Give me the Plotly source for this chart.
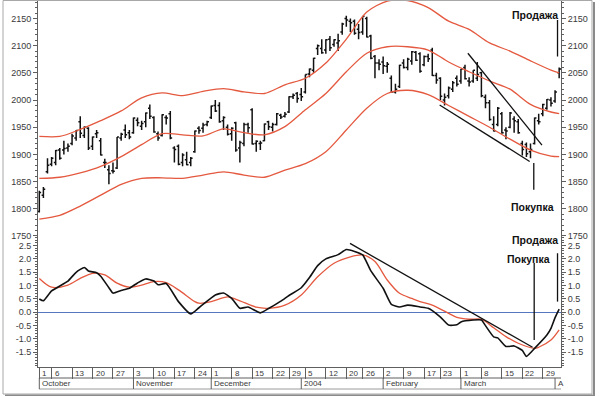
import plotly.graph_objects as go
import pandas as pd

# ---------------- categories (trading days) ----------------
holidays = ["2003-11-27", "2003-12-25", "2004-01-01", "2004-01-19", "2004-02-16"]
dates = [d for d in pd.bdate_range("2003-10-01", "2004-04-02")
         if d.strftime("%Y-%m-%d") not in holidays]
idx = list(range(len(dates)))

# ---------------- OHLC price bars ----------------
open_ = [1795, 1825, 1868, 1882, 1885, 1908, 1908, 1912, 1920, 1930, 1960, 1935, 1948, 1915, 1938, 1925,
         1885, 1872, 1870, 1875, 1930, 1945, 1940, 1940, 1963, 1952, 1960, 1985, 1968, 1938, 1935, 1968,
         1975, 1912, 1915, 1885, 1890, 1885, 1905, 1948, 1948, 1955, 1968, 1990, 1990, 1962, 1950, 1938,
         1958, 1912, 1920, 1955, 1982, 1920, 1920, 1925, 1960, 1950, 1955, 1972, 1970, 1978, 2006, 2012,
         2010, 2015, 2048, 2055, 2095, 2095, 2092, 2112, 2102, 2105, 2125, 2150, 2145, 2145, 2130, 2125,
         2150, 2118, 2080, 2068, 2070, 2062, 2040, 2015, 2025, 2068, 2060, 2072, 2088, 2085, 2065, 2080,
         2092, 2045, 2040, 2000, 2008, 2020, 2040, 2035, 2060, 2035, 2035, 2040, 2050, 2005, 1995, 1955,
         1955, 1975, 1945, 1950, 1965, 1960, 1920, 1918, 1905, 1920, 1962, 1975, 1985, 2000, 1998, 2050]
high = [1833, 1840, 1893, 1895, 1908, 1912, 1925, 1920, 1938, 1945, 1970, 1952, 1950, 1933, 1945, 1930,
        1892, 1880, 1885, 1932, 1940, 1955, 1945, 1968, 1968, 1962, 1977, 1992, 1970, 1942, 1974, 1972,
        1980, 1915, 1918, 1902, 1905, 1895, 1944, 1952, 1958, 1962, 1990, 2000, 1996, 1970, 1955, 1950,
        1960, 1925, 1958, 1958, 1985, 1926, 1925, 1957, 1962, 1958, 1976, 1975, 1978, 2007, 2012, 2015,
        2022, 2047, 2058, 2078, 2102, 2112, 2112, 2118, 2112, 2122, 2142, 2155, 2150, 2148, 2140, 2154,
        2153, 2120, 2083, 2075, 2080, 2070, 2045, 2030, 2065, 2075, 2078, 2090, 2090, 2088, 2082, 2085,
        2096, 2050, 2042, 2012, 2025, 2035, 2045, 2057, 2065, 2042, 2055, 2070, 2052, 2010, 2000, 1970,
        1987, 1978, 1950, 1978, 1970, 1965, 1925, 1922, 1920, 1968, 1975, 1993, 2002, 2005, 2018, 2060]
low = [1793, 1820, 1865, 1878, 1880, 1890, 1900, 1905, 1917, 1925, 1930, 1930, 1908, 1908, 1930, 1898,
       1875, 1845, 1865, 1873, 1925, 1930, 1928, 1938, 1952, 1945, 1950, 1965, 1940, 1925, 1933, 1955,
       1928, 1885, 1880, 1878, 1880, 1878, 1903, 1938, 1940, 1952, 1965, 1978, 1958, 1945, 1935, 1925,
       1905, 1885, 1915, 1940, 1918, 1905, 1908, 1924, 1945, 1942, 1953, 1965, 1968, 1976, 2002, 1995,
       1998, 2012, 2042, 2050, 2083, 2085, 2085, 2090, 2098, 2090, 2120, 2135, 2125, 2120, 2112, 2120,
       2115, 2075, 2040, 2055, 2048, 2050, 2014, 2012, 2022, 2058, 2055, 2065, 2072, 2050, 2062, 2070,
       2044, 2030, 2000, 1990, 2003, 2015, 2025, 2030, 2038, 2025, 2032, 2035, 2005, 1985, 1962, 1942,
       1952, 1938, 1928, 1948, 1940, 1938, 1898, 1895, 1893, 1918, 1955, 1970, 1982, 1988, 1995, 2040]
close = [1830, 1836, 1880, 1893, 1907, 1893, 1911, 1915, 1934, 1944, 1939, 1950, 1912, 1932, 1940, 1899,
         1885, 1865, 1869, 1932, 1937, 1936, 1932, 1967, 1958, 1957, 1976, 1970, 1941, 1930, 1973, 1967,
         1930, 1909, 1882, 1899, 1881, 1893, 1943, 1944, 1954, 1960, 1989, 1980, 1960, 1968, 1937, 1948,
         1908, 1922, 1955, 1949, 1919, 1924, 1921, 1956, 1951, 1955, 1975, 1969, 1974, 2006, 2009, 2003,
         2006, 2047, 2057, 2077, 2100, 2087, 2111, 2096, 2111, 2109, 2140, 2147, 2142, 2123, 2124, 2154,
         2116, 2077, 2068, 2066, 2063, 2066, 2015, 2020, 2064, 2060, 2075, 2089, 2073, 2053, 2080, 2076,
         2045, 2037, 2007, 2005, 2022, 2032, 2029, 2057, 2039, 2033, 2055, 2047, 2008, 1995, 1964, 1943,
         1985, 1940, 1943, 1976, 1962, 1940, 1909, 1901, 1909, 1967, 1960, 1992, 2001, 1994, 2015, 2057]

# ---------------- envelope lines (sampled every 5 trading days) ----------------
band_idx = [0, 5, 10, 15, 20, 25, 30, 35, 40, 45, 50, 55, 60, 65, 70, 75, 80, 85, 90, 95, 100, 105,
            110, 115, 120, 125, 127]
band_upper = [1933, 1933, 1946, 1962, 1980, 2004, 2013, 2008, 2016, 2021, 2015, 2012, 2028, 2040, 2068,
              2112, 2162, 2182, 2183, 2170, 2145, 2130, 2105, 2090, 2072, 2055, 2050]
band_mid = [1856, 1858, 1866, 1878, 1896, 1918, 1938, 1936, 1934, 1947, 1940, 1936, 1951, 1982, 2012,
            2052, 2086, 2098, 2098, 2092, 2070, 2052, 2035, 2020, 1992, 1978, 1975]
band_lower = [1781, 1788, 1805, 1825, 1845, 1856, 1857, 1856, 1862, 1868, 1862, 1858, 1871, 1883, 1905,
              1945, 1985, 2012, 2018, 2010, 1990, 1970, 1950, 1928, 1908, 1897, 1896]

# ---------------- oscillator ----------------
osc_idx = [0, 1, 3, 7, 9, 11, 12, 14, 15, 17, 18, 20, 22, 24, 26, 28, 29, 31, 34, 37, 39, 43, 45, 47,
           49, 51, 54, 56, 59, 61, 64, 66, 68, 70, 73, 75, 77, 79, 81, 84, 86, 88, 90, 93, 95, 98, 100,
           102, 103, 106, 108, 109, 111, 112, 114, 116, 118, 119, 121, 124, 125, 126, 127]
osc_val = [0.5, 0.43, 0.8, 1.17, 1.5, 1.68, 1.55, 1.48, 1.35, 0.92, 0.72, 0.82, 0.9, 1.1, 1.25, 1.17,
           1.03, 1.08, 0.4, -0.06, 0.17, 0.65, 0.72, 0.52, 0.15, 0.2, -0.02, 0.14, 0.42, 0.63, 0.92,
           1.3, 1.75, 2.0, 2.16, 2.35, 2.28, 2.15, 1.55, 0.9, 0.3, 0.2, 0.27, 0.2, 0.15, -0.18, -0.48,
           -0.47, -0.36, -0.29, -0.29, -0.5, -0.92, -0.96, -1.28, -1.26, -1.43, -1.65, -1.35, -0.85,
           -0.6, -0.2, 0.12]
sig_idx = [0, 3, 7, 10, 13, 16, 19, 22, 25, 28, 31, 34, 38, 39, 42, 46, 49, 53, 56, 60, 64, 68, 72,
           76, 79, 82, 85, 88, 91, 93, 96, 100, 102, 105, 108, 111, 114, 117, 121, 122, 125, 127]
sig_val = [1.27, 0.94, 1.02, 1.27, 1.46, 1.4, 1.09, 0.94, 1.02, 1.15, 1.11, 0.84, 0.4, 0.34, 0.4, 0.58,
           0.43, 0.19, 0.15, 0.27, 0.65, 1.33, 1.84, 2.08, 2.15, 1.9, 1.21, 0.71, 0.52, 0.4, 0.27,
           -0.04, -0.19, -0.26, -0.26, -0.58, -0.91, -1.16, -1.35, -1.31, -1.04, -0.66]

# ---------------- drawn trend lines & signal markers ----------------
trend1_x, trend1_y = [104.7, 122.8], [2086, 1917]
trend2_x, trend2_y = [97.8, 119.8], [1991, 1887]
trend3_x, trend3_y = [75.9, 120.5], [2.58, -1.31]
sell_top_x, sell_top_y = [126.6, 126.6], [2147, 2080]
buy_top_x, buy_top_y = [120.8, 120.8], [1884, 1835]
sell_low_x, sell_low_y = [126.6, 126.6], [2.21, 0.40]
buy_low_x, buy_low_y = [120.9, 120.9], [1.85, -1.04]
label_sell, label_buy = "Продажа", "Покупка"

price_ticks = [1750, 1800, 1850, 1900, 1950, 2000, 2050, 2100, 2150]
osc_ticks = [-1.5, -1.0, -0.5, 0.0, 0.5, 1.0, 1.5, 2.0, 2.5]
osc_tick_text = ["-1.5", "-1.0", "-0.5", "0.0", "0.5", "1.0", "1.5", "2.0", "2.5"]
month_names = {10: "October", 11: "November", 12: "December", 1: "2004", 2: "February",
               3: "March", 4: "A"}

# week starts and month starts from categories
week_idx, week_lab, month_idx, month_lab = [], [], [], []
for i, d in enumerate(dates):
    if i == 0 or d.isocalendar()[1] != dates[i - 1].isocalendar()[1]:
        week_idx.append(i)
        week_lab.append(str(d.day))
    if i == 0 or d.month != dates[i - 1].month:
        month_idx.append(i)
        month_lab.append(month_names[d.month])

# ---------------- styling ----------------
RED = "#e4593f"
AX = "#5f5f5f"
TXT = "#3a3a3a"
FONT = "Liberation Sans, Arial, sans-serif"
W, H = 600, 396
ML, MR, MT, MB = 38, 39, 0, 29
PW, PH = W - ML - MR, H - MT - MB
XR = [-0.32, 127.45]
split = (PH - 236.5) / PH


def py(px):
    return (PH - px) / PH


def pxx(px):
    return (px - ML) / PW


fig = go.Figure()
fig.add_trace(go.Ohlc(x=idx, open=open_, high=high, low=low, close=close,
                      increasing_line_color="#111", decreasing_line_color="#111",
                      line_width=1.5, tickwidth=0.45, xaxis="x", yaxis="y",
                      showlegend=False, hoverinfo="skip"))
for band in (band_upper, band_mid, band_lower):
    fig.add_trace(go.Scatter(x=band_idx, y=band, mode="lines", xaxis="x", yaxis="y",
                             line=dict(color=RED, width=1.3, shape="spline", smoothing=0.8),
                             showlegend=False, hoverinfo="skip"))
for tx, ty in ((trend1_x, trend1_y), (trend2_x, trend2_y), (sell_top_x, sell_top_y),
               (buy_top_x, buy_top_y)):
    fig.add_trace(go.Scatter(x=tx, y=ty, mode="lines", xaxis="x", yaxis="y",
                             line=dict(color="#111", width=1.3), showlegend=False, hoverinfo="skip"))
# invisible helper so that the right-hand price axis is drawn
fig.add_trace(go.Scatter(x=idx, y=close, mode="lines", xaxis="x", yaxis="y3",
                         line=dict(width=0), opacity=0, showlegend=False, hoverinfo="skip"))

fig.add_trace(go.Scatter(x=sig_idx, y=sig_val, mode="lines", xaxis="x2", yaxis="y2",
                         line=dict(color=RED, width=1.3, shape="spline", smoothing=0.8),
                         showlegend=False, hoverinfo="skip"))
fig.add_trace(go.Scatter(x=osc_idx, y=osc_val, mode="lines", xaxis="x2", yaxis="y2",
                         line=dict(color="#111", width=1.6, shape="spline", smoothing=0.5),
                         showlegend=False, hoverinfo="skip"))
for tx, ty in ((trend3_x, trend3_y), (sell_low_x, sell_low_y), (buy_low_x, buy_low_y)):
    fig.add_trace(go.Scatter(x=tx, y=ty, mode="lines", xaxis="x2", yaxis="y2",
                             line=dict(color="#111", width=1.3), showlegend=False, hoverinfo="skip"))
fig.add_trace(go.Scatter(x=sig_idx, y=sig_val, mode="lines", xaxis="x2", yaxis="y4",
                         line=dict(width=0), opacity=0, showlegend=False, hoverinfo="skip"))

yax_common = dict(showgrid=False, zeroline=False, showline=True, linecolor=AX, linewidth=1,
                  ticks="outside", ticklen=4, tickcolor=AX,
                  tickfont=dict(family=FONT, size=9, color=TXT))

fig.update_layout(
    width=W, height=H, margin=dict(l=ML, r=MR, t=MT, b=MB),
    paper_bgcolor="white", plot_bgcolor="white", showlegend=False,
    xaxis=dict(domain=[0, 1], anchor="y", range=XR, showticklabels=False, ticks="",
               showgrid=False, zeroline=False, showline=False, rangeslider=dict(visible=False)),
    xaxis2=dict(domain=[0, 1], anchor="y2", range=XR, showgrid=False, zeroline=False,
                showline=True, linecolor=AX, linewidth=1, ticks="outside", ticklen=11,
                tickcolor=AX, tickvals=week_idx, showticklabels=False),
    yaxis=dict(domain=[split, 1], anchor="x", range=[1749, 2184], side="left",
               tickvals=price_ticks,
               minor=dict(dtick=10, tick0=1750, ticks="outside", ticklen=2, tickcolor=AX),
               **yax_common),
    yaxis3=dict(overlaying="y", anchor="x", side="right", range=[1749, 2184],
                tickvals=price_ticks,
                minor=dict(dtick=10, tick0=1750, ticks="outside", ticklen=2, tickcolor=AX),
                **yax_common),
    yaxis2=dict(domain=[0, split], anchor="x2", range=[-2.05, 2.84], side="left",
                tickvals=osc_ticks, ticktext=osc_tick_text,
                minor=dict(dtick=0.1, tick0=0, ticks="outside", ticklen=2, tickcolor=AX),
                **yax_common),
    yaxis4=dict(overlaying="y2", anchor="x2", side="right", range=[-2.05, 2.84],
                tickvals=osc_ticks, ticktext=osc_tick_text,
                minor=dict(dtick=0.1, tick0=0, ticks="outside", ticklen=2, tickcolor=AX),
                **yax_common),
)
fig.update_layout(yaxis2_zeroline=True, yaxis2_zerolinecolor="#5576c0", yaxis2_zerolinewidth=1)

shapes = []
# row separators under the plot
for ypx, col in ((378, AX), (389, "#9a9a9a")):
    shapes.append(dict(type="line", xref="paper", yref="paper", x0=pxx(39), x1=1, y0=py(ypx),
                       y1=py(ypx), line=dict(color=col, width=1)))
for m in month_idx:
    shapes.append(dict(type="line", xref="x2", yref="paper", x0=m, x1=m, y0=py(378), y1=py(389),
                       line=dict(color=AX, width=1)))
# outer frame with shadow
shapes.append(dict(type="rect", xref="paper", yref="paper", x0=pxx(3), x1=pxx(592), y0=py(394),
                   y1=py(0.5), line=dict(color="#a8a8a8", width=1)))
shapes.append(dict(type="line", xref="paper", yref="paper", x0=pxx(594), x1=pxx(594), y0=py(396),
                   y1=py(2), line=dict(color="#8a8a8a", width=2)))
shapes.append(dict(type="line", xref="paper", yref="paper", x0=pxx(5), x1=pxx(595), y0=py(395.5),
                   y1=py(395.5), line=dict(color="#8a8a8a", width=2)))
fig.update_layout(shapes=shapes)

ann = []
for w, lab in zip(week_idx, week_lab):
    ann.append(dict(x=w, xref="x2", y=py(373), yref="paper", text=lab, showarrow=False,
                    xanchor="left", yanchor="middle", xshift=1,
                    font=dict(family=FONT, size=8, color=TXT)))
for m, lab in zip(month_idx, month_lab):
    ann.append(dict(x=m, xref="x2", y=py(383.5), yref="paper", text=lab, showarrow=False,
                    xanchor="left", yanchor="middle", xshift=1,
                    font=dict(family=FONT, size=8, color=TXT)))
bold = dict(family="Liberation Sans, Arial, sans-serif", size=10.5, color="#111")
ann.append(dict(x=121.1, xref="x", y=2156, yref="y", text="<b>%s</b>" % label_sell,
                showarrow=False, font=bold))
ann.append(dict(x=120.4, xref="x", y=1803, yref="y", text="<b>%s</b>" % label_buy,
                showarrow=False, font=bold))
ann.append(dict(x=121.1, xref="x2", y=2.71, yref="y2", text="<b>%s</b>" % label_sell,
                showarrow=False, font=bold))
ann.append(dict(x=119.5, xref="x2", y=1.99, yref="y2", text="<b>%s</b>" % label_buy,
                showarrow=False, font=bold))
fig.update_layout(annotations=ann)

fig.write_html("out.html", config={"displayModeBar": False},
               post_script="document.body.style.margin='0';document.body.style.overflow='hidden';")
